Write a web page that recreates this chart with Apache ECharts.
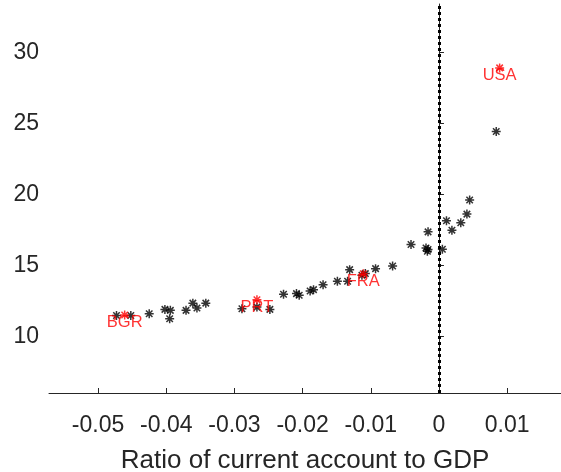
<!DOCTYPE html>
<html>
<head>
<meta charset="utf-8">
<script src="https://cdn.jsdelivr.net/npm/echarts@6/dist/echarts.min.js"></script>
<style>
  html, body { margin: 0; padding: 0; background: #fff; }
  #chart { width: 561px; height: 472px; }
</style>
</head>
<body>
<div id="chart"></div>
<script>
// countries (black stars)
var caRatio = [-0.0473, -0.0452, -0.0425, -0.0402, -0.0394, -0.0395, -0.0371, -0.0361, -0.0355, -0.0342,
  -0.0289, -0.0267, -0.0248, -0.0228, -0.0209, -0.0205, -0.0189, -0.0184, -0.0170, -0.0149,
  -0.0134, -0.0131, -0.0113, -0.0108, -0.0093, -0.0068, -0.0041, -0.0019, -0.0017, -0.0016,
  -0.0016, 0.0005, 0.0011, 0.0019, 0.0032, 0.0041, 0.0045, 0.0084];
var yValue = [11.46, 11.46, 11.58, 11.89, 11.82, 11.23, 11.82, 12.33, 11.98, 12.33,
  11.94, 12.05, 11.89, 12.95, 13.0, 12.88, 13.18, 13.28, 13.63, 13.87,
  13.87, 14.69, 14.29, 14.41, 14.76, 14.95, 16.46, 16.22, 15.99, 16.11,
  17.35, 16.13, 18.13, 17.47, 17.99, 18.6, 19.59, 24.42];

// highlighted countries (red)
var hlNames = ['USA', 'FRA', 'PRT', 'BGR'];
var hlRatio = [0.0089, -0.0111, -0.0267, -0.0461];
var hlValue = [28.9, 14.4, 12.57, 11.5];

var xTicks = [-0.05, -0.04, -0.03, -0.02, -0.01, 0, 0.01];
var yTicks = [10, 15, 20, 25, 30];

var star = 'path://M0,-1L0,1M-1,0L1,0M-0.72,-0.72L0.72,0.72M-0.72,0.72L0.72,-0.72';
var axisCol = '#262626';
var font = 'Liberation Sans, Arial, Helvetica, sans-serif';

var blackPts = caRatio.map(function (x, i) { return [x, yValue[i]]; });
var redPts = hlRatio.map(function (x, i) { return { name: hlNames[i], value: [x, hlValue[i]] }; });

var chart = echarts.init(document.getElementById('chart'));
chart.setOption({
  animation: false,
  backgroundColor: '#fff',
  grid: { left: 49, top: 4, right: 0, bottom: 79, outerBoundsMode: 'none', containLabel: false },
  xAxis: {
    type: 'value',
    min: -0.0572, max: 0.0179,
    name: 'Ratio of current account to GDP',
    nameLocation: 'middle',
    nameGap: 55,
    nameTextStyle: { fontFamily: font, fontSize: 26, color: axisCol },
    splitLine: { show: false },
    axisLine: { show: true, lineStyle: { color: axisCol, width: 1 } },
    axisTick: { show: true, inside: true, length: 5, customValues: xTicks, lineStyle: { color: axisCol } },
    axisLabel: { customValues: xTicks, fontFamily: font, fontSize: 23, color: axisCol, margin: 21,
      formatter: function (v) { return String(v); } }
  },
  yAxis: {
    type: 'value',
    min: 6, max: 33.4,
    splitLine: { show: false },
    axisLine: { show: true, lineStyle: { color: axisCol, width: 1 } },
    axisTick: { show: true, inside: true, length: 5, customValues: yTicks, lineStyle: { color: axisCol } },
    axisLabel: { customValues: yTicks, fontFamily: font, fontSize: 23, color: axisCol, margin: 10 }
  },
  series: [
    {
      type: 'scatter',
      data: blackPts,
      symbol: star,
      symbolSize: 9,
      itemStyle: { color: '#000', borderColor: '#000', borderWidth: 1.5 },
      emphasis: { disabled: true },
      silent: true,
      markLine: {
        silent: true,
        symbol: ['none', 'none'],
        label: { show: false },
        lineStyle: { color: '#000', width: 3, type: [3, 3] },
        data: [{ xAxis: 0 }]
      }
    },
    {
      type: 'scatter',
      data: redPts,
      symbol: star,
      symbolSize: 9,
      itemStyle: { color: '#ff0000', borderColor: '#ff0000', borderWidth: 1.5 },
      emphasis: { disabled: true },
      silent: true,
      label: {
        show: true,
        position: 'inside',
        offset: [0, 8],
        formatter: '{b}',
        fontFamily: font,
        fontSize: 16.5,
        color: '#ff0000'
      }
    }
  ]
});
</script>
</body>
</html>
